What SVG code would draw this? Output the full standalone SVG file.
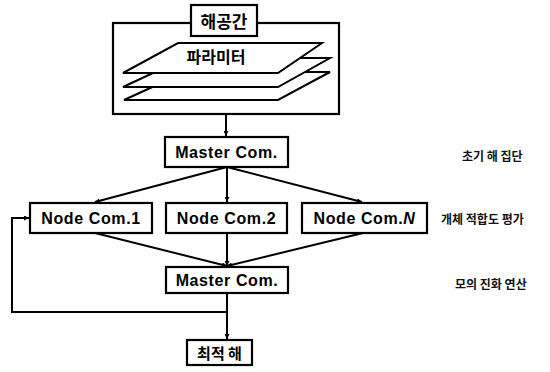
<svg xmlns="http://www.w3.org/2000/svg" width="550" height="372" viewBox="0 0 550 372">
<style>
.box{fill:#fff;stroke:#000;stroke-width:2.2}
.plane{fill:#fff;stroke:#000;stroke-width:2}
.lbl{font-family:"Liberation Sans","Noto Sans CJK KR",sans-serif;font-weight:bold;font-size:16px;letter-spacing:0.6px;fill:#000;text-anchor:middle;dominant-baseline:central}
.kr{font-family:"Noto Sans CJK KR",sans-serif;font-weight:bold;fill:#000;text-anchor:middle;dominant-baseline:central}
.side{font-family:"Noto Sans CJK KR",sans-serif;font-weight:bold;font-size:12px;fill:#111;dominant-baseline:central}
.con{fill:none;stroke:#000;stroke-width:2}
</style>
<defs>
<marker id="ah" viewBox="0 0 10 10" refX="10" refY="5" markerWidth="5" markerHeight="5" orient="auto" markerUnits="userSpaceOnUse">
<path d="M0,0 L10,5 L0,10 z" fill="#000"/>
</marker>
</defs>
<g id="solution-space">
<rect class="box" x="113" y="23" width="226" height="91"/>
<polygon class="plane" points="185,72 330,72 278,100 124,100"/>
<polygon class="plane" points="185,58 330,58 278,87 123,87"/>
<polygon class="plane" points="178,43 322,43 278,73 123,73"/>
<text class="kr" x="216" y="56" font-size="16">파라미터</text>
<rect class="box" x="191" y="5" width="66" height="31"/>
<text class="kr" x="224" y="20" font-size="17">해공간</text>
</g>
<g id="connectors">
<path class="con" d="M226,114 V136" marker-end="url(#ah)"/>
<path class="con" d="M227,167 L95,202" marker-end="url(#ah)"/>
<path class="con" d="M227,167 V202" marker-end="url(#ah)"/>
<path class="con" d="M227,167 L362,202" marker-end="url(#ah)"/>
<path class="con" d="M95,233 L227,266" marker-end="url(#ah)"/>
<path class="con" d="M227,233 V266" marker-end="url(#ah)"/>
<path class="con" d="M363,233 L227,266" marker-end="url(#ah)"/>
<path class="con" d="M227,293 V339" marker-end="url(#ah)"/>
<path class="con" d="M227,312 H12 V218 H29" marker-end="url(#ah)"/>
</g>
<g id="master1">
<rect class="box" x="165" y="137" width="123" height="30"/>
<text class="lbl" x="226.5" y="152">Master Com.</text>
</g>
<g id="node1">
<rect class="box" x="30" y="203" width="122" height="30"/>
<text class="lbl" x="91" y="218">Node Com.1</text>
</g>
<g id="node2">
<rect class="box" x="166" y="203" width="121" height="30"/>
<text class="lbl" x="226.5" y="218">Node Com.2</text>
</g>
<g id="nodeN">
<rect class="box" x="302" y="203" width="125" height="30"/>
<text class="lbl" x="364.5" y="218">Node Com.<tspan font-style="italic">N</tspan></text>
</g>
<g id="master2">
<rect class="box" x="166" y="267" width="122" height="26"/>
<text class="lbl" x="227" y="280">Master Com.</text>
</g>
<g id="optimum">
<rect class="box" x="187" y="340" width="65" height="25"/>
<text class="kr" x="219.5" y="352.5" font-size="15">최적 해</text>
</g>
<g id="side-labels">
<text class="side" x="462" y="155">초기 해 집단</text>
<text class="side" x="441" y="218">개체 적합도 평가</text>
<text class="side" x="455" y="283">모의 진화 연산</text>
</g>
</svg>
